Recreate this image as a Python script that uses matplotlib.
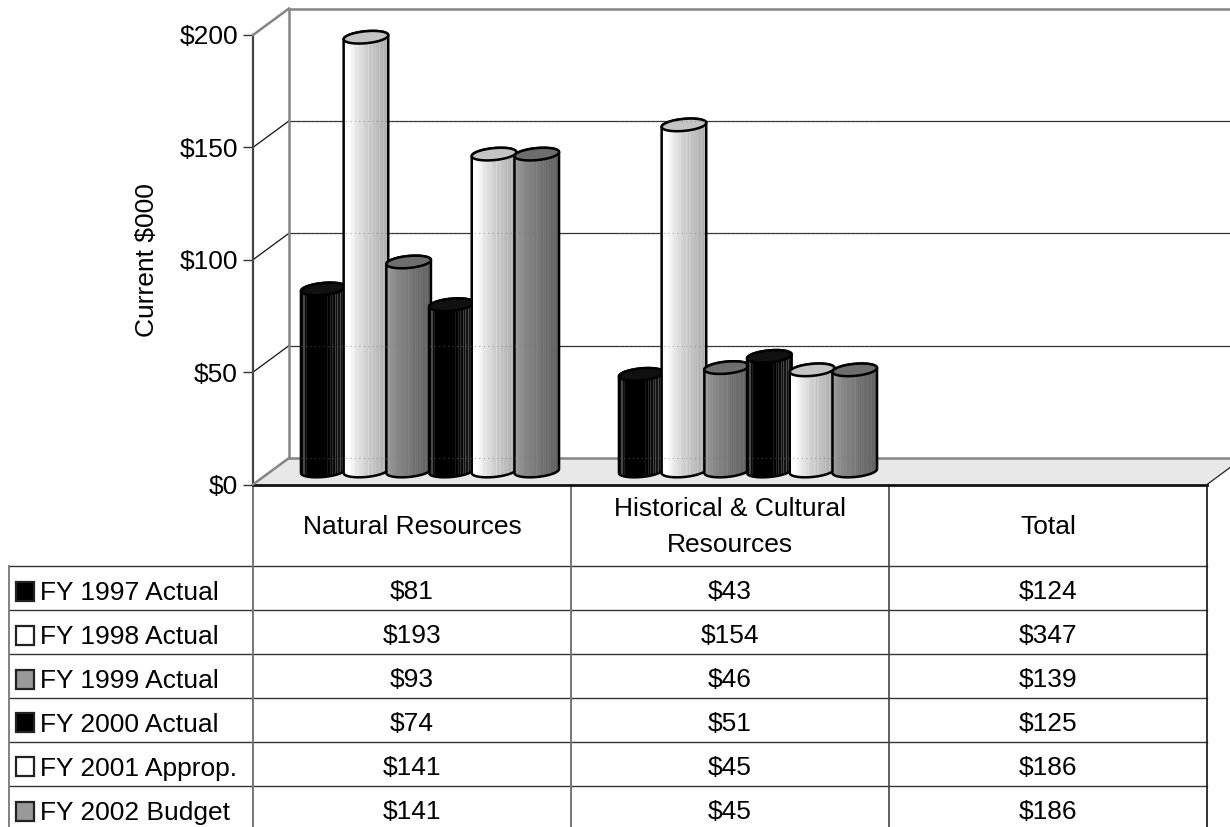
import numpy as np
import matplotlib
matplotlib.use('Agg')
import matplotlib.pyplot as plt
from matplotlib.patches import Polygon, Rectangle
from matplotlib.ticker import FuncFormatter

plt.rcParams['font.family'] = ['Liberation Sans', 'DejaVu Sans']

categories = ['Natural Resources', 'Historical & Cultural\nResources', 'Total']
series_names = ['FY 1997 Actual', 'FY 1998 Actual', 'FY 1999 Actual',
                'FY 2000 Actual', 'FY 2001 Approp.', 'FY 2002 Budget']
natural = [81, 193, 93, 74, 141, 141]
historical = [43, 154, 46, 51, 45, 45]
total = [124, 347, 139, 125, 186, 186]
y_ticks = [0, 50, 100, 150, 200]

key_colors = ['black', 'white', '#999999', 'black', 'white', '#999999']
lid_colors = ['#111111', '#c4c4c4', '#6e6e6e', '#111111', '#c4c4c4', '#6e6e6e']

# shading across a cylinder, left to right
shade_dark = [.32, .05, .28, .05, .12, 0, 0, 0, 0, 0, 0, 0, 0, 0, 0, 0, 0, 0, 0, 0, 0,
              .10, 0, .16, 0, .20, .04, .25, .06, .28, .08, .30, .08, .32, .1, .32]
shade_light = [.96, 1, 1, 1, 1, .98, .96, .95, .93, .91, .90, .88, .88, .86, .86, .84,
               .82, .82, .80, .84, .80, .76, .80, .76, .74, .78, .74, .72, .76, .72,
               .70, .74, .70, .68, .72, .68]
shade_mid = [.62, .60, .60, .58, .58, .56, .56, .54, .54, .52, .52, .52, .50, .50, .50,
             .50, .48, .48, .50, .46, .48, .46, .44, .47, .43, .46, .42, .45, .41, .44,
             .40, .43, .39, .42, .38, .40]
shades = [shade_dark, shade_light, shade_mid, shade_dark, shade_light, shade_mid]

W, H = 1230, 827
fig = plt.figure(figsize=(W / 100, H / 100), dpi=100, facecolor='white')

# table sits in an axes measured in pixels
tb = fig.add_axes([0, 0, 1, 1], zorder=0)
tb.set_xlim(0, W)
tb.set_ylim(H, 0)
tb.axis('off')

col_x = [253, 571, 889, 1207]
row_y = [566, 610, 654, 698, 742, 786]
key_y = [582, 626, 670, 713, 757, 802]
text_y = [590, 634, 678, 722, 766, 810]
fs = 19.0

for y in row_y:
    tb.plot([9, 1207], [y, y], color='#333333', lw=1.0)
tb.plot([9, 9], [566, H], color='#777777', lw=1.3)
tb.plot([253, 253], [484, H], color='#777777', lw=1.4)
tb.plot([571, 571], [484, H], color='#777777', lw=1.4)
tb.plot([889, 889], [484, H], color='#444444', lw=1.2)
tb.plot([1207, 1207], [484, H], color='#111111', lw=1.2)

for i, name in enumerate(categories):
    tb.text((col_x[i] + col_x[i + 1]) / 2, 527, name, ha='center', va='center',
            fontsize=fs, linespacing=1.6)
for r, name in enumerate(series_names):
    tb.add_patch(Rectangle((15.5, key_y[r]), 18.5, 18.5, facecolor=key_colors[r],
                           edgecolor='#222222', lw=1.6))
    tb.text(40, text_y[r] + 3, name, ha='left', va='center', fontsize=fs)
    for i, vals in enumerate([natural, historical, total]):
        tb.text((col_x[i] + col_x[i + 1]) / 2, text_y[r] + 2, '$%d' % vals[r],
                ha='center', va='center', fontsize=fs)

# chart axes: x in categories, y in $000
ax = fig.add_axes([253 / W, (H - 484.5) / H, 954 / W, 449.5 / H], zorder=1)
ax.patch.set_alpha(0)
px_x = 954 / 3
px_y = 449.5 / 200
depth_x = 36 / px_x
depth_y = 26.5 / px_y

# floor and walls
ax.add_patch(Polygon([(0, 0), (depth_x, depth_y), (3 + depth_x, depth_y), (3, 0)],
                     facecolor='#e8e8e8', edgecolor='none', zorder=1, clip_on=False))
grey = '#858585'
for v in y_ticks[1:-1]:
    ax.plot([depth_x, 3 + depth_x], [v + depth_y, v + depth_y], color='#333333', lw=0.9,
            zorder=2, clip_on=False)
    ax.plot([0, depth_x], [v, v + depth_y], color='#111111', lw=0.9, zorder=2, clip_on=False)
for v in [0, 200]:
    ax.plot([depth_x, 3 + depth_x], [v + depth_y, v + depth_y], color=grey, lw=1.8,
            zorder=2, clip_on=False)
    ax.plot([0, depth_x], [v, v + depth_y], color=grey, lw=1.8, zorder=3, clip_on=False)
ax.plot([depth_x, depth_x], [depth_y, 200 + depth_y], color=grey, lw=1.8, zorder=3,
        clip_on=False)
ax.plot([3, 3 + depth_x], [0, depth_y], color='#222222', lw=0.9, zorder=3, clip_on=False)

# cylinders
step = 42.7 / px_x
half_w = 22.3 / px_x
half_h = 6 / px_y
tilt = 2 / px_y
mid_y = 13.5 / px_y


def lid_points(xc, yc, t):
    return np.column_stack([xc + half_w * np.cos(t),
                            yc + half_h * np.sin(t) + tilt * np.cos(t)])


z = 10
for g, vals in enumerate([natural, historical]):
    for k, v in enumerate(vals):
        xc = g + 0.5 + depth_x / 2 + (k - 2.5) * step
        y0 = mid_y
        y1 = v + mid_y
        bottom = lid_points(xc, y0, np.linspace(np.pi, 2 * np.pi, 40))
        top = lid_points(xc, y1, np.linspace(0, np.pi, 40))
        body = Polygon(np.vstack([bottom, top]), closed=True, facecolor='none',
                       edgecolor='black', lw=1.8, zorder=z + 1, clip_on=False)
        ax.add_patch(body)
        im = ax.imshow(np.array([shades[k]]), cmap='gray', vmin=0, vmax=1, aspect='auto',
                       interpolation='nearest', zorder=z,
                       extent=(xc - half_w, xc + half_w, y0 - 2 * half_h, y1 + 2 * half_h))
        im.set_clip_path(body)
        lid = Polygon(lid_points(xc, y1, np.linspace(0, 2 * np.pi, 60)), closed=True,
                      facecolor=lid_colors[k], edgecolor='black', lw=1.8, zorder=z + 2,
                      clip_on=False)
        ax.add_patch(lid)
        z += 3

# gridlines show faintly through the cylinders
for v in y_ticks[:-1]:
    for g in range(2):
        xc = g + 0.5 + depth_x / 2
        ax.plot([xc - 2.5 * step - half_w, xc + 2.5 * step + half_w],
                [v + depth_y, v + depth_y], color='#777777', lw=0.8, ls=(0, (1, 3)),
                alpha=0.55, zorder=z)

ax.set_xlim(0, 3)
ax.set_ylim(0, 200)
ax.set_xticks([])
ax.set_yticks(y_ticks)
ax.yaxis.set_major_formatter(FuncFormatter(lambda v, p: '$%d' % v))
ax.tick_params(axis='y', length=7.2, width=1, color='#333333', pad=3.6, labelsize=fs)
ax.set_ylabel('Current $000', fontsize=fs)
ax.yaxis.set_label_coords(-0.099, 0.5)
for s in ['top', 'right']:
    ax.spines[s].set_visible(False)
ax.spines['left'].set_color('#444444')
ax.spines['left'].set_linewidth(1.6)
ax.spines['bottom'].set_color('#111111')
ax.spines['bottom'].set_linewidth(2)

fig.savefig('out.png', dpi=100)
